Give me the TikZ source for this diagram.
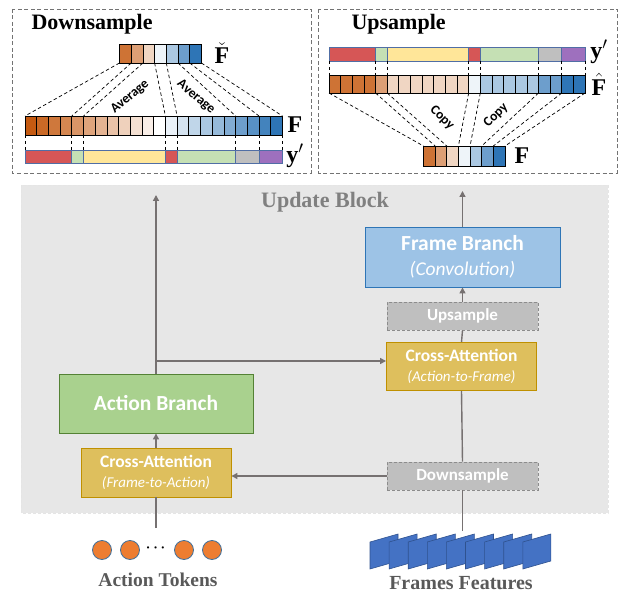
\documentclass[tikz,border=0pt]{standalone}
\usepackage{fontspec}
\usepackage{amsmath}
\setmainfont{Liberation Serif}
\newfontfamily\boxfont{Carlito}
\usetikzlibrary{arrows.meta}

\definecolor{orangeD}{RGB}{197,90,17}
\definecolor{blueD}{RGB}{46,117,182}
\definecolor{segR}{RGB}{214,86,86}
\definecolor{segG}{RGB}{197,224,180}
\definecolor{segY}{RGB}{255,230,153}
\definecolor{segS}{RGB}{191,191,191}
\definecolor{segP}{RGB}{158,112,190}
\definecolor{segline}{RGB}{80,110,165}
\definecolor{blockgray}{RGB}{231,231,231}
\definecolor{linkgray}{RGB}{118,113,113}
\definecolor{titlegray}{RGB}{128,128,128}
\definecolor{labelgray}{RGB}{89,89,89}
\definecolor{frameblue}{RGB}{157,195,230}
\definecolor{actiongreen}{RGB}{169,209,142}
\definecolor{actionedge}{RGB}{84,130,53}
\definecolor{attnfill}{RGB}{222,191,93}
\definecolor{attnedge}{RGB}{191,144,0}
\definecolor{tokenorange}{RGB}{237,125,49}
\definecolor{tokenedge}{RGB}{65,113,156}
\definecolor{featblue}{RGB}{68,114,196}
\definecolor{featedge}{RGB}{47,82,143}

\newcommand{\paneltitle}{\fontsize{22}{24}\selectfont\bfseries}
\newcommand{\barlabel}{\fontsize{24}{24}\selectfont}

\tikzset{
  panel/.style={draw=black!55,line width=0.9pt,dash pattern=on 4pt off 2.5pt},
  cell/.style={draw=black,line width=0.7pt},
  seg/.style={draw=segline,line width=0.9pt},
  guide/.style={line width=0.7pt,dash pattern=on 3.5pt off 2.5pt},
  note/.style={font=\boxfont\fontsize{13.5}{14}\selectfont\bfseries,inner sep=0pt},
  box/.style={inner sep=0pt,align=center,text=white,line width=0.9pt},
  resample/.style={box,fill=segS,draw=black!45,dash pattern=on 3pt off 2pt,
    minimum width=151pt,minimum height=28pt,
    font=\boxfont\fontsize{17}{20}\selectfont\bfseries},
  attn/.style={box,fill=attnfill,draw=attnedge,minimum width=150pt,
    minimum height=48pt,font=\boxfont\fontsize{15}{20}\selectfont},
  link/.style={draw=linkgray,line width=1.4pt},
  arr/.style={link,-{Triangle[length=6pt,width=6pt]}},
  token/.style={fill=tokenorange,draw=tokenedge,line width=0.8pt},
  feat/.style={fill=featblue,draw=featedge,line width=0.6pt},
}

\begin{document}
\begin{tikzpicture}[x=1pt,y=-1pt]
  \useasboundingbox (0,0) rectangle (621,593);

  % Downsample panel: F (22 cells) averaged into F-check (7 cells) by the y' segments
  % cell width 11.7, F row at x=25, F-check row at x=119.5
  \draw[panel] (12,9) rectangle (311,173);
  \node[anchor=west,font=\paneltitle] (dtitle) at (28,24) {Downsample};

  \foreach \i in {0,...,21}{
    \pgfmathtruncatemacro{\sh}{\i<11 ? 100-9*\i : (\i==11 ? 0 : 10*(\i-11))}
    \ifnum\i<11 \def\cc{orangeD}\else\def\cc{blueD}\fi
    \draw[cell,fill=\cc!\sh!white] ({25+11.7*\i},116) rectangle ++(11.7,19);
  }
  \foreach \i in {0,...,22}{
    \coordinate (dFt\i) at ({25+11.7*\i},116);
    \coordinate (dFb\i) at ({25+11.7*\i},135);
    \coordinate (dYt\i) at ({25+11.7*\i},150);
  }
  \foreach \a/\b/\c in {0/4/segR,4/5/segG,5/12/segY,12/13/segR,13/18/segG,18/20/segS,20/22/segP}
    \draw[seg,fill=\c] ({25+11.7*\a},150) rectangle ({25+11.7*\b},163);
  \foreach \k/\c in {0/orangeD!85,1/orangeD!58,2/orangeD!25,3/blueD!8,4/blueD!40,5/blueD!70,6/blueD}{
    \draw[cell,fill=\c] ({119.5+11.7*\k},44) rectangle ++(11.7,19);
  }
  \foreach \k in {0,...,7}
    \coordinate (dCb\k) at ({119.5+11.7*\k},63);

  \foreach \k/\m in {0/0,1/4,2/5,3/12,4/13,5/18,6/20,7/22}
    \draw[guide] (dCb\k) -- (dFt\m);
  \foreach \m in {0,4,5,12,13,18,20,22}
    \draw[guide] (dFb\m) -- (dYt\m);

  \node[note,rotate=40] (avgL) at (130,97) {Average};
  \node[note,rotate=-40] (avgR) at (196,97) {Average};
  \node[font=\barlabel] (lFc) at (222,53) {$\check{\mathbf{F}}$};
  \node[font=\barlabel] (lF) at (295,125) {$\mathbf{F}$};
  \node[font=\barlabel] (lY) at (295,156) {$\mathbf{y}'$};

  % Upsample panel: F-check copied back onto the 22 positions of F-hat
  % cell width 11.64, rows at x=329, small F at x=423.5
  \draw[panel] (318,9) rectangle (617,173);
  \node[anchor=west,font=\paneltitle] (utitle) at (348,24) {Upsample};

  \foreach \a/\b/\c in {0/4/segR,4/5/segG,5/12/segY,12/13/segR,13/18/segG,18/20/segS,20/22/segP}
    \draw[seg,fill=\c] ({329+11.64*\a},47) rectangle ({329+11.64*\b},61);
  \foreach \a/\b/\c in {0/4/orangeD!85,4/5/orangeD!58,5/12/orangeD!25,12/13/blueD!8,
                        13/18/blueD!40,18/20/blueD!70,20/22/blueD}{
    \pgfmathtruncatemacro{\e}{\b-1}
    \foreach \i in {\a,...,\e}
      \draw[cell,fill=\c] ({329+11.64*\i},75) rectangle ++(11.64,18);
  }
  \foreach \i in {0,...,22}{
    \coordinate (uYb\i) at ({329+11.64*\i},61);
    \coordinate (uHt\i) at ({329+11.64*\i},75);
    \coordinate (uHb\i) at ({329+11.64*\i},93);
  }
  \foreach \k/\c in {0/orangeD!85,1/orangeD!58,2/orangeD!25,3/blueD!8,4/blueD!40,5/blueD!70,6/blueD}{
    \draw[cell,fill=\c] ({423.5+11.64*\k},146) rectangle ++(11.64,20);
  }
  \foreach \k in {0,...,7}
    \coordinate (uFt\k) at ({423.5+11.64*\k},146);

  \foreach \m in {0,4,5,12,13,18,20,22}
    \draw[guide] (uYb\m) -- (uHt\m);
  \foreach \k/\m in {0/0,1/4,2/5,3/12,4/13,5/18,6/20,7/22}
    \draw[guide] (uHb\m) -- (uFt\k);

  \node[note,rotate=-45] (cpyL) at (442,118) {Copy};
  \node[note,rotate=45] (cpyR) at (496,115) {Copy};
  \node[font=\barlabel] (rY) at (599,52) {$\mathbf{y}'$};
  \node[font=\barlabel] (rFh) at (599,84) {$\hat{\mathbf{F}}$};
  \node[font=\barlabel] (rF) at (522,156) {$\mathbf{F}$};

  % Update block
  \fill[blockgray] (21,185) rectangle (608,513);
  \draw[white!80!gray,line width=0.8pt,dash pattern=on 3pt off 2pt] (21,185) rectangle (608,513);
  \node[font=\fontsize{22}{24}\selectfont\bfseries,text=titlegray] (ublock) at (325,202) {Update Block};

  \node[box,fill=frameblue,draw=blueD,minimum width=195pt,minimum height=60pt,
        font=\boxfont\fontsize{19.5}{25}\selectfont] (frame) at (462.5,257)
    {{\fontsize{21.5}{25}\selectfont\bfseries Frame Branch}\\\textit{(Convolution)}};
  \node[resample] (up) at (462.5,316) {Upsample};
  \node[attn] (caf) at (461.5,366.5)
    {{\fontsize{17.5}{20}\selectfont\bfseries Cross-Attention}\\\textit{(Action-to-Frame)}};
  \node[resample] (down) at (462.5,476) {Downsample};

  \node[box,fill=actiongreen,draw=actionedge,minimum width=194pt,minimum height=59pt,
        font=\boxfont\fontsize{21.5}{25}\selectfont\bfseries] (action) at (156,403.5)
    {Action Branch};
  \node[attn,minimum height=49pt] (caa) at (156,472.5)
    {{\fontsize{17.5}{20}\selectfont\bfseries Cross-Attention}\\\textit{(Frame-to-Action)}};

  \coordinate (outA) at (156,195);
  \coordinate (outF) at (462.5,191);
  \coordinate (split) at (156,361);
  \coordinate (tok) at (156,528);
  \coordinate (frm) at (462.5,531);

  \draw[arr] (frame.north) -- (outF);
  \draw[arr] (up.north) -- (frame.south);
  \draw[link] (caf.north) -- (up.south);
  \draw[link] (down.north) -- (caf.south);
  \draw[arr] (down.west) -- (down.west -| caa.east);
  \draw[arr] (caa.north) -- (action.south);
  \draw[arr] (action.north) -- (outA);
  \draw[arr] (split) -- (split -| caf.west);
  \draw[link] (tok) -- (caa.south);
  \draw[link] (frm) -- (down.south);

  % Inputs
  \foreach \x in {102,130,184,212}
    \draw[token] (\x,550) circle[radius=9.5pt];
  \node[font=\fontsize{14}{14}\selectfont] (dots) at (157,548) {$\boldsymbol{\cdots}$};
  \node[font=\fontsize{19.5}{22}\selectfont\bfseries,text=labelgray] (tokens) at (158,580) {Action Tokens};

  \foreach \i in {0,...,8}
    \filldraw[feat] ({370+19.1*\i},542) -- ++(28,-8) -- ++(0,27) -- ++(-28,8) -- cycle;
  \node[font=\fontsize{20}{22}\selectfont\bfseries,text=labelgray] (frames) at (461,583) {Frames Features};
\end{tikzpicture}
\end{document}
